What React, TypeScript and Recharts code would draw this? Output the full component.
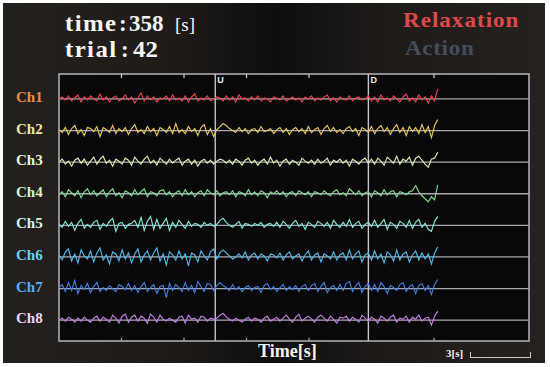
import React from 'react';
import { LineChart, Line, XAxis, YAxis, ReferenceLine, ReferenceArea } from 'recharts';

const CHANNEL_LABELS = ['Ch1', 'Ch2', 'Ch3', 'Ch4', 'Ch5', 'Ch6', 'Ch7', 'Ch8'];
const TRACE_COLORS = ['#e8444c', '#e6c45e', '#d8ecae', '#7fd894', '#82e6d6', '#52b8ea', '#3f7fe2', '#c27ee2'];
const LABEL_COLORS = ['#f08c4c', '#f2e8a2', '#eaf5d4', '#d2f2ca', '#d2f5ee', '#6ed0f2', '#58aef2', '#f2d2f5'];
const BASELINES = [7, 6, 5, 4, 3, 2, 1, 0];
const TIME_TICKS = [3, 6, 9, 12, 18];
const MARKERS = [
  { t: 7.5, label: 'U' },
  { t: 14.85, label: 'D' },
];
const DT = 0.1515; // seconds between samples
const X_MAX = 22.56;
const Y_MIN = -0.66;
const Y_MAX = 7.79;
const PX_PER_UNIT = 31.6;

// amplitudes (screen px, positive = up), one sample every DT seconds
const ch1 = [
  0, 2, -1, 3, -2, 1, 4, -3, 2, -1,
  3, 0, -2, 5, -1, 2, -3, 1, 3, -2,
  0, 4, -1, 2, -4, 1, 6, -2, 3, -1,
  2, -3, 1, 0, 3, -2, 4, -1, 1, -2,
  3, -3, 2, 5, -2, 1, -1, 3, -2, 0,
  2, 1, -2, 3, -1, 2, -3, 4, 0, 1,
  -2, 2, -1, 3, -2, 1, 0, -3, 2, 1,
  -1, 3, -2, 0, 2, -1, 1, -3, 2, 0,
  3, -2, 1, -1, 2, 4, -2, 1, -3, 2,
  0, -1, 3, -2, 1, 2, -1, 0, 3, -2,
  2, -3, 4, -1, 1, -2, 3, 0, -3, 2,
  5, -2, 1, -3, 4, -1, 2, -4, 3, -2,
  10,
];
const ch2 = [
  1, -2, 3, -4, 2, 5, -3, 1, -5, 3,
  2, -1, 4, -6, 3, 1, -2, 5, -3, 2,
  -1, 3, -4, 2, 6, -2, 1, -3, 4, -1,
  2, -5, 3, 1, -2, 4, -3, 7, -2, 1,
  -3, 4, -1, 2, -5, 3, 6, -4, 2, -6,
  1, 4, 7, 5, 2, 0, -2, 3, -1, 2,
  -3, 1, 2, -2, 4, -1, 0, 2, -3, 1,
  3, -2, 2, -4, 1, 3, -1, 2, -3, 4,
  -2, 1, 3, -4, 2, 5, -1, 3, -2, 1,
  -3, 2, 4, -1, 2, -5, 3, 1, -2, 4,
  -3, 2, 5, -1, 3, -4, 2, 6, -2, 3,
  -5, 4, -1, 3, -3, 6, -2, 4, -7, 5,
  11,
];
const ch3 = [
  0, 3, -2, 1, -4, 2, 4, -1, 3, -3,
  1, 5, -2, 3, 6, -1, 2, -4, 3, 1,
  -2, 4, 2, -3, 5, 1, -2, 3, 6, -1,
  2, -3, 4, 1, -2, 3, -1, 2, 4, -3,
  1, 3, -2, 2, -4, 1, 3, -1, 2, -2,
  1, 3, 2, -1, 2, -2, 3, 1, -3, 2,
  4, -1, 2, -3, 1, 3, -2, 5, -1, 2,
  -4, 1, 3, -2, 2, 0, -3, 4, 1, -1,
  2, -2, 3, -1, 1, 4, -3, 2, 0, 3,
  -1, 2, -4, 3, 1, -2, 2, 4, -1, 3,
  -2, 4, 1, -3, 5, 2, -1, 6, -2, 3,
  1, 5, -3, 4, 6, 2, -2, -5, 3, 4,
  10,
];
const ch4 = [
  -1, 2, -3, 4, 1, -2, 3, -4, 2, 5,
  -1, 3, -2, 1, 4, -3, 2, 5, -2, 1,
  -4, 3, 1, -2, 4, -1, 2, 5, -3, 2,
  1, -2, 3, 4, -1, 2, -3, 1, 3, -2,
  4, -1, 2, -3, 1, 3, -2, 4, 1, -1,
  3, -2, 1, 2, -1, 3, -3, 2, 1, -2,
  4, -1, 2, -2, 3, 1, -4, 2, 0, 3,
  -1, 2, -3, 1, 2, -2, 3, 1, -1, 2,
  -3, 2, 1, -1, 3, 0, -2, 2, 4, -1,
  1, -2, 5, 2, -1, 3, -2, 1, 2, -3,
  3, 1, -2, 4, -1, 2, 3, -3, 2, 1,
  -1, 2, 3, 8, 2, -2, -5, -8, -3, -6,
  9,
];
const ch5 = [
  1, -2, 4, -1, 3, -5, 2, 6, -3, 1,
  -2, 3, 5, -4, 2, -1, 4, 7, -6, 2,
  3, -3, 1, 2, 5, -2, 8, -5, 4, 9,
  -4, 6, -3, 2, 7, -5, 3, -2, 5, 1,
  -3, 4, -1, 2, 1, -2, 3, 0, 2, -1,
  1, 5, 7, 3, 0, -2, 1, 4, -3, 2,
  1, -1, 2, 0, 3, -2, 1, 2, -1, 3,
  -2, 4, 1, -3, 2, 5, -1, 2, -4, 3,
  1, -2, 4, 2, -1, 3, -3, 5, 1, -2,
  3, -1, 6, -2, 2, 4, -3, 1, 3, -1,
  5, -2, 2, 6, -4, 3, 1, -3, 4, 2,
  -2, 5, -3, 3, 6, -2, 2, -4, -6, 4,
  9,
];
const ch6 = [
  2, -3, 5, 8, -4, 3, -6, 7, 1, -2,
  6, -5, 4, 9, -3, 2, -7, 5, 3, -4,
  7, -2, 4, -6, 3, 8, -5, 2, 6, -3,
  4, 9, -4, 3, -8, 5, 2, -3, 6, -2,
  3, -9, 4, 2, -5, 6, 1, -3, 5, 8,
  -2, 4, 7, 4, 1, -2, 0, 3, -1, 5,
  -3, 2, 4, -2, 3, 1, -4, 3, 2, -1,
  4, -3, 2, 5, -2, 1, 3, -4, 2, 6,
  -3, 2, 4, -5, 3, 1, -2, 5, -3, 2,
  4, -3, 7, -2, 3, 6, -5, 2, 4, -3,
  6, -2, 3, -6, 5, 2, -4, 7, -3, 3,
  5, -5, 2, 6, -3, 4, -2, 3, -7, 4,
  10,
];
const ch7 = [
  1, 4, -3, 6, -2, 8, -5, 3, -1, 5,
  -4, 2, 6, -3, 1, -2, 3, 0, -3, 4,
  2, -1, 5, -2, 3, -4, 2, 6, -3, 1,
  4, -5, 2, 3, -9, 5, -2, 4, 1, -3,
  6, -2, 3, -4, 7, 2, -3, 5, 4, -2,
  3, 6, 3, 1, -2, 4, -1, 2, -3, 1,
  3, -2, 1, 2, -4, 3, 5, -1, 2, -3,
  1, 4, -2, 2, -1, 3, -3, 2, 4, -2,
  3, 5, -3, 2, 6, -4, 1, 3, -2, 4,
  -2, 5, 7, -3, 3, 6, -4, 2, 5, -2,
  4, -3, 6, 2, -5, 3, 1, -2, 4, 6,
  -3, 2, 4, -5, 3, 5, -2, 3, -6, 4,
  9,
];
const ch8 = [
  0, 2, -1, 3, 1, -2, 2, -1, 3, 0,
  -2, 2, 4, -1, 3, 1, -2, 5, 2, -3,
  4, 6, -2, 3, 5, -1, 4, 2, -3, 6,
  3, -2, 5, 1, -1, 2, 0, -2, 3, 4,
  -3, 5, 1, 2, -2, 4, 3, -1, 2, 1,
  2, 5, 7, 3, 1, -1, 2, 0, -2, 1,
  3, -1, 2, 1, -2, 2, 4, -1, 1, 3,
  -1, 2, 5, 1, -2, 3, 6, -1, 2, 4,
  1, -2, 3, 5, 2, -1, 4, 1, -3, 3,
  2, 4, -1, 3, 1, -2, 5, 2, -1, 3,
  1, -3, 4, 2, -1, 3, 5, -2, 2, 1,
  4, -2, 3, 1, 5, -1, 2, 3, -5, 4,
  9,
];
const CHANNELS = [ch1, ch2, ch3, ch4, ch5, ch6, ch7, ch8];

const maxLen = Math.max(...CHANNELS.map((c) => c.length));
const data = Array.from({ length: maxLen }, (_, i) => {
  const row: Record<string, number> = { t: +(i * DT).toFixed(4) };
  CHANNELS.forEach((arr, k) => {
    if (i < arr.length) row[`c${k}`] = BASELINES[k] + arr[i] / PX_PER_UNIT;
  });
  return row;
});

const serif = '"Liberation Serif", "DejaVu Serif", serif';

const ChTick = (props: any) => {
  const { y, payload } = props;
  const idx = BASELINES.indexOf(payload.value);
  return (
    <text x={16} y={y} dy={3} fill={LABEL_COLORS[idx]} fontFamily={serif} fontWeight={700} fontSize={15}>
      {CHANNEL_LABELS[idx]}
    </text>
  );
};

const MarkerLabel = (props: any) => {
  const { viewBox, value } = props;
  return (
    <text x={viewBox.x + 2} y={viewBox.y + 9} fill="#e8e8f0" fontFamily="Arial, sans-serif" fontWeight={700} fontSize={9}>
      {value}
    </text>
  );
};

const Txt = ({
  x, top, size, color, weight = 700, scale = 1, spacing = 0, children,
}: {
  x: number; top: number; size: number; color: string; weight?: number; scale?: number; spacing?: number; children: React.ReactNode;
}) => (
  <div
    style={{
      position: 'absolute',
      left: x,
      top,
      fontFamily: serif,
      fontWeight: weight,
      fontSize: size,
      lineHeight: `${size}px`,
      color,
      letterSpacing: spacing,
      whiteSpace: 'nowrap',
      transform: `scaleX(${scale})`,
      transformOrigin: 'left top',
    }}
  >
    {children}
  </div>
);

export default function App() {
  return (
    <div style={{ position: 'absolute', left: 0, top: 0, width: 550, height: 367, background: '#ffffff', overflow: 'hidden' }}>
      <div
        style={{
          position: 'absolute',
          left: 3,
          top: 3,
          width: 542,
          height: 360,
          background: 'linear-gradient(90deg, #24201d 0%, #1f1b19 30%, #0f0e0d 50%, #1d1a18 68%, #24211f 100%)',
        }}
      />
      <div style={{ position: 'absolute', left: 0, top: 0 }}>
        <LineChart width={550} height={367} data={data} margin={{ top: 74, right: 21, bottom: 26, left: 0 }}>
          <XAxis type="number" dataKey="t" domain={[0, X_MAX]} hide allowDataOverflow />
          <YAxis
            type="number"
            domain={[Y_MIN, Y_MAX]}
            ticks={BASELINES}
            width={59}
            axisLine={false}
            tickLine={false}
            tick={<ChTick />}
            allowDataOverflow
          />
          <ReferenceArea x1={0} x2={X_MAX} y1={Y_MIN} y2={Y_MAX} fill="#080808" fillOpacity={1} stroke="#b4b4bc" strokeWidth={1.5} />
          {BASELINES.map((b) => (
            <ReferenceLine key={`b${b}`} y={b} stroke="#a8a8b2" strokeWidth={1.3} />
          ))}
          {MARKERS.map((m) => (
            <ReferenceLine key={m.label} x={m.t} stroke="#c4c4cc" strokeWidth={1.4} label={<MarkerLabel value={m.label} />} />
          ))}
          {TIME_TICKS.map((t) => (
            <ReferenceLine key={`tt${t}`} segment={[{ x: t, y: Y_MAX }, { x: t, y: Y_MAX - 0.13 }]} stroke="#c4c4cc" strokeWidth={1.3} />
          ))}
          {TIME_TICKS.map((t) => (
            <ReferenceLine key={`tb${t}`} segment={[{ x: t, y: Y_MIN }, { x: t, y: Y_MIN + 0.1 }]} stroke="#9a9aa2" strokeWidth={1.3} />
          ))}
          {CHANNELS.map((_, k) => (
            <Line
              key={k}
              type="linear"
              dataKey={`c${k}`}
              stroke={TRACE_COLORS[k]}
              strokeWidth={1.15}
              dot={false}
              isAnimationActive={false}
              connectNulls={false}
            />
          ))}
        </LineChart>
      </div>

      <Txt x={65} top={12} size={23} color="#f4f4f4" scale={1.08} spacing={1.3}>time</Txt>
      <Txt x={119} top={12} size={23} color="#f4f4f4">:</Txt>
      <Txt x={129} top={12} size={23} color="#f4f4f4">358</Txt>
      <Txt x={175} top={15} size={19} color="#f4f4f4" weight={400}>[s]</Txt>

      <Txt x={65} top={38} size={23} color="#f4f4f4" scale={1.08} spacing={1.3}>trial</Txt>
      <Txt x={121} top={38} size={23} color="#f4f4f4">:</Txt>
      <Txt x={133} top={38} size={23} color="#f4f4f4" scale={1.08}>42</Txt>

      <Txt x={403} top={10} size={21} color="#e0484c" scale={1.1} spacing={0.9}>Relaxation</Txt>
      <Txt x={405} top={38} size={21} color="#474c5d" scale={1.1} spacing={0.6}>Action</Txt>

      <Txt x={258} top={342} size={18} color="#f4f4f4">Time[s]</Txt>
      <Txt x={446} top={348} size={11} color="#f0f0f0">3[s]</Txt>
      <div
        style={{
          position: 'absolute',
          left: 470,
          top: 352,
          width: 59,
          height: 5,
          borderLeft: '1.5px solid #c8c8cc',
          borderRight: '1.5px solid #c8c8cc',
          borderBottom: '1.5px solid #c8c8cc',
        }}
      />
    </div>
  );
}
